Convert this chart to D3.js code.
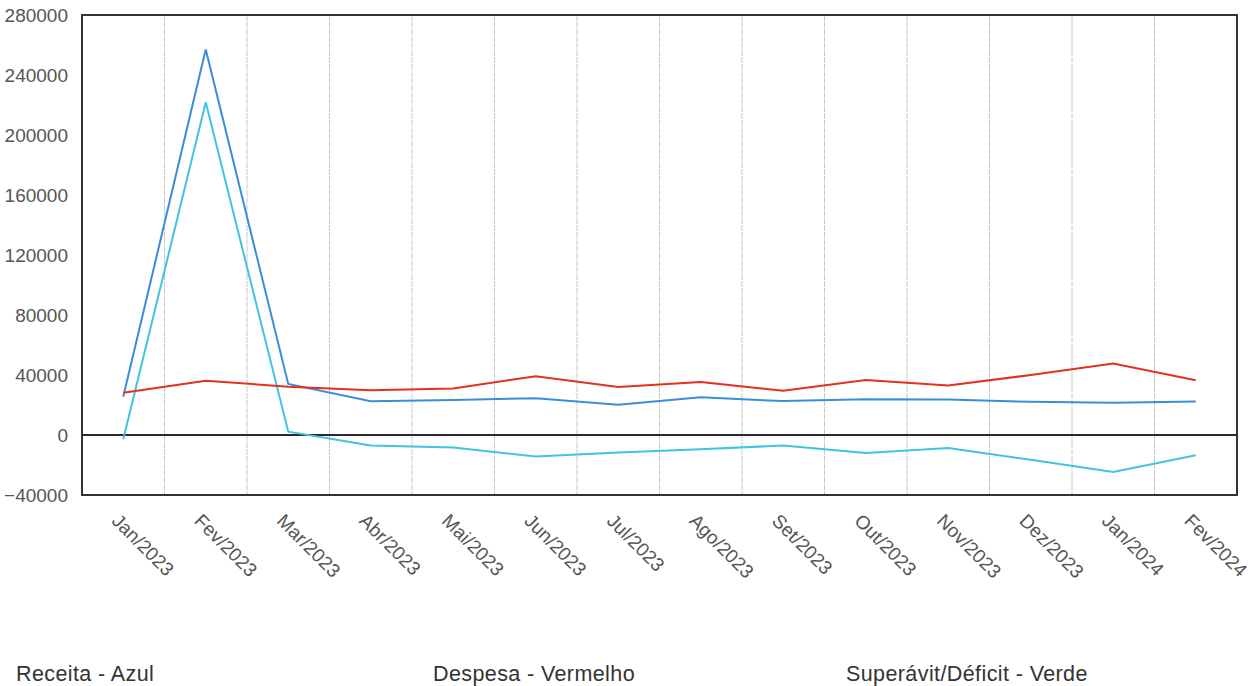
<!DOCTYPE html>
<html><head><meta charset="utf-8">
<script src="https://cdn.jsdelivr.net/npm/d3@7/dist/d3.min.js"></script>
<style>
html,body{margin:0;padding:0;background:#fff;}
svg{display:block;font-family:"Liberation Sans",Arial,sans-serif;}
</style></head>
<body><svg id="chart" width="1257" height="686"></svg>
<script>
const categories = ["Jan/2023","Fev/2023","Mar/2023","Abr/2023","Mai/2023","Jun/2023","Jul/2023","Ago/2023","Set/2023","Out/2023","Nov/2023","Dez/2023","Jan/2024","Fev/2024"];
const receita   = [25500, 257000, 34000, 22500, 23300, 24500, 20200, 25100, 22600, 23800, 23700, 22100, 21500, 22300];
const despesa   = [28200, 36200, 32200, 29800, 31000, 39200, 32000, 35400, 29500, 36700, 33000, 40000, 47700, 36500];
const superavit = [-2900, 221800, 2200, -7000, -8300, -14300, -11700, -9500, -7000, -12000, -8700, -16500, -24700, -13500];
const yTicks = [-40000, 0, 40000, 80000, 120000, 160000, 200000, 240000, 280000];
const legendLabels = ["Receita - Azul", "Despesa - Vermelho", "Superávit/Déficit - Verde"];

const svg = d3.select("#chart");
const L = 82, R = 1237, T = 15, B = 495;

const xBand = d3.scaleBand().domain(categories).range([L, R]);
const x = d3.scalePoint().domain(categories).range([L, R]).padding(0.5);
const y = d3.scaleLinear().domain([-40000, 280000]).range([B, T]);

// vertical grid lines at band boundaries
svg.append("g").selectAll("line").data(categories.slice(1)).join("line")
  .attr("x1", d => xBand(d)).attr("x2", d => xBand(d))
  .attr("y1", T).attr("y2", B)
  .attr("stroke", "#c8c8cc").attr("stroke-width", 1).attr("stroke-dasharray", "6,1");

// y axis labels
const yAxis = d3.axisLeft(y).tickValues(yTicks).tickSize(0).tickPadding(14).tickFormat(d3.format("d"));
const gy = svg.append("g").attr("transform", `translate(${L},0)`).call(yAxis);
gy.select(".domain").remove();
gy.selectAll("text").attr("font-size", 19).attr("fill", "#555").attr("font-family", "Liberation Sans, Arial, sans-serif");

// x axis labels rotated
const xAxis = d3.axisBottom(x).tickSize(0).tickPadding(0);
const gx = svg.append("g").attr("transform", `translate(0,${B})`).call(xAxis);
gx.select(".domain").remove();
gx.selectAll("text")
  .attr("font-size", 19).attr("fill", "#555").attr("font-family", "Liberation Sans, Arial, sans-serif")
  .attr("text-anchor", "start").attr("dy", null).attr("y", 0)
  .attr("transform", "translate(-13,27) rotate(45)");

// frame
const frame = svg.append("g").attr("stroke", "#3a3035").attr("stroke-width", 2).attr("fill", "none");
frame.append("rect").attr("x", L).attr("y", T).attr("width", R - L).attr("height", B - T);
// zero line
svg.append("line").attr("x1", L).attr("x2", R).attr("y1", y(0)).attr("y2", y(0))
  .attr("stroke", "#2e2628").attr("stroke-width", 2.2);

// series lines
const line = d3.line().x((d, i) => x(categories[i])).y(d => y(d));
const series = [
  {vals: superavit, color: "#40c4e0"},
  {vals: receita, color: "#3a8ed8"},
  {vals: despesa, color: "#e4301e"}
];
svg.append("g").selectAll("path").data(series).join("path")
  .attr("d", d => line(d.vals)).attr("fill", "none")
  .attr("stroke", d => d.color).attr("stroke-width", 2);

// legend texts
const legendX = [16, 433, 846];
svg.append("g").selectAll("text").data(legendLabels).join("text")
  .attr("x", (d, i) => legendX[i]).attr("y", 681)
  .attr("font-size", 21.5).attr("letter-spacing", 0.4).attr("fill", "#333").text(d => d);
</script></body></html>
